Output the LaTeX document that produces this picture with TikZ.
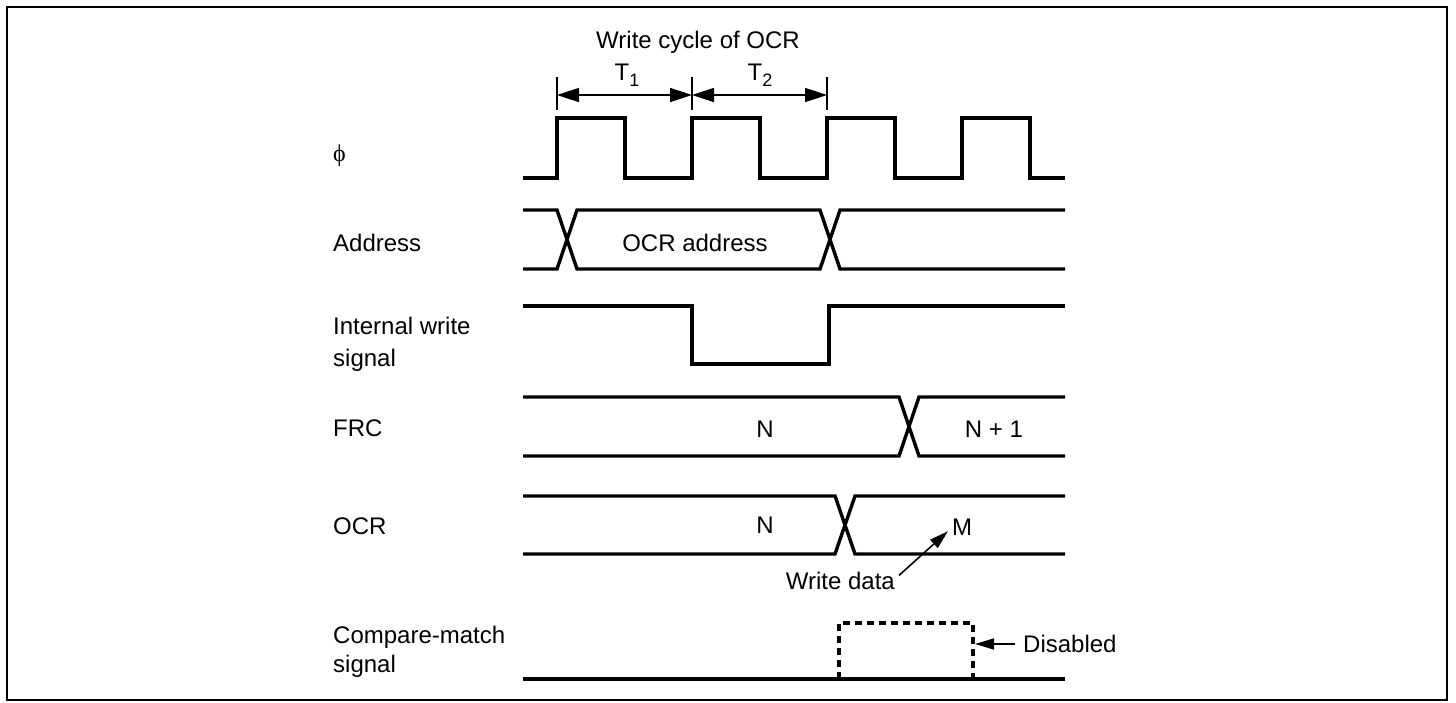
\documentclass[tikz,border=0pt]{standalone}
\usepackage{fontspec}
\setmainfont{Liberation Sans}
\newfontfamily\phifont{Liberation Serif}
\usetikzlibrary{arrows.meta,calc}
\begin{document}
\begin{tikzpicture}[x=1pt,y=-1pt,
  sig/.style={line width=3.4pt, line join=miter, line cap=butt},
  dsig/.style={line width=3.4pt, dash pattern=on 7pt off 5pt},
  thinline/.style={line width=1.6pt},
  dimarr/.style={line width=1.6pt, {Triangle[length=22pt,width=14pt]}-{Triangle[length=22pt,width=14pt]}},
  arr/.style={line width=1.6pt, -{Triangle[length=19pt,width=11pt]}},
  lbl/.style={font=\fontsize{24}{28}\selectfont, inner sep=0pt}]
\useasboundingbox (0,0) rectangle (1456,702);
\draw[line width=2.6pt] (7,7) rectangle (1447,700);

% header
\node[lbl, anchor=base] (wc) at (698,48) {Write cycle of OCR};
\node[lbl, anchor=base] (t1) at (627,80) {T\raisebox{-6pt}{\fontsize{18}{20}\selectfont 1}};
\node[lbl, anchor=base] (t2) at (760,80) {T\raisebox{-6pt}{\fontsize{18}{20}\selectfont 2}};
\coordinate (k1t) at (557,77); \coordinate (k1b) at (557,110);
\coordinate (k2t) at (692,77); \coordinate (k2b) at (692,110);
\coordinate (k3t) at (827,77); \coordinate (k3b) at (827,110);
\draw[thinline] (k1t) -- (k1b);
\draw[thinline] (k2t) -- (k2b);
\draw[thinline] (k3t) -- (k3b);
\coordinate (a1) at (557,95); \coordinate (a2) at (692,95); \coordinate (a3) at (827,95);
\draw[dimarr] (a1) -- (a2);
\draw[dimarr] (a2) -- (a3);

% labels
\node[lbl, anchor=base west] (lphi) at (333,161) {\phifont ϕ};
\node[lbl, anchor=base west] (laddr) at (333,251) {Address};
\node[lbl, anchor=base west] (liw1) at (333,334) {Internal write};
\node[lbl, anchor=base west] (liw2) at (333,366) {signal};
\node[lbl, anchor=base west] (lfrc) at (333,436) {FRC};
\node[lbl, anchor=base west] (locr) at (333,534) {OCR};
\node[lbl, anchor=base west] (lcm1) at (333,643) {Compare-match};
\node[lbl, anchor=base west] (lcm2) at (333,672) {signal};

% clock
\draw[sig] (523,178) -| (557,118) -| (625,178) -| (692,118) -| (760,178)
  -| (827,118) -| (895,178) -| (962,118) -| (1030,178) -- (1065,178);

% address
\draw[sig] (523,210) -- (557,210) -- (577,269) -- (820,269) -- (840,210) -- (1065,210);
\draw[sig] (523,269) -- (557,269) -- (577,210) -- (820,210) -- (840,269) -- (1065,269);
\node[lbl, anchor=base] (oa) at (695,251) {OCR address};

% internal write
\draw[sig] (523,306) -| (692,364) -| (829,306) -- (1065,306);

% FRC
\draw[sig] (523,397) -- (899,397) -- (919,456) -- (1065,456);
\draw[sig] (523,456) -- (899,456) -- (919,397) -- (1065,397);
\node[lbl, anchor=base] (fn) at (765,437) {N};
\node[lbl, anchor=base] (fn1) at (994,437) {N + 1};

% OCR
\draw[sig] (523,496) -- (835,496) -- (855,554) -- (1065,554);
\draw[sig] (523,554) -- (835,554) -- (855,496) -- (1065,496);
\node[lbl, anchor=base] (on) at (765,533) {N};
\node[lbl, anchor=base west] (om) at (952,535) {M};
\node[lbl, anchor=base east] (wd) at (895,589) {Write data};
\draw[arr] ([xshift=4pt,yshift=-4pt]wd.north east) -- ([xshift=-4pt,yshift=4pt]om.south west);

% compare match
\draw[sig] (523,679) -- (1065,679);
\draw[dsig] (839,679) |- (973,623) -- (973,679);
\node[lbl, anchor=west] (dis) at (1023,644) {Disabled};
\coordinate (dr) at (975,644);
\draw[arr] ([xshift=-8pt]dis.west) -- (dr);
\end{tikzpicture}
\end{document}
